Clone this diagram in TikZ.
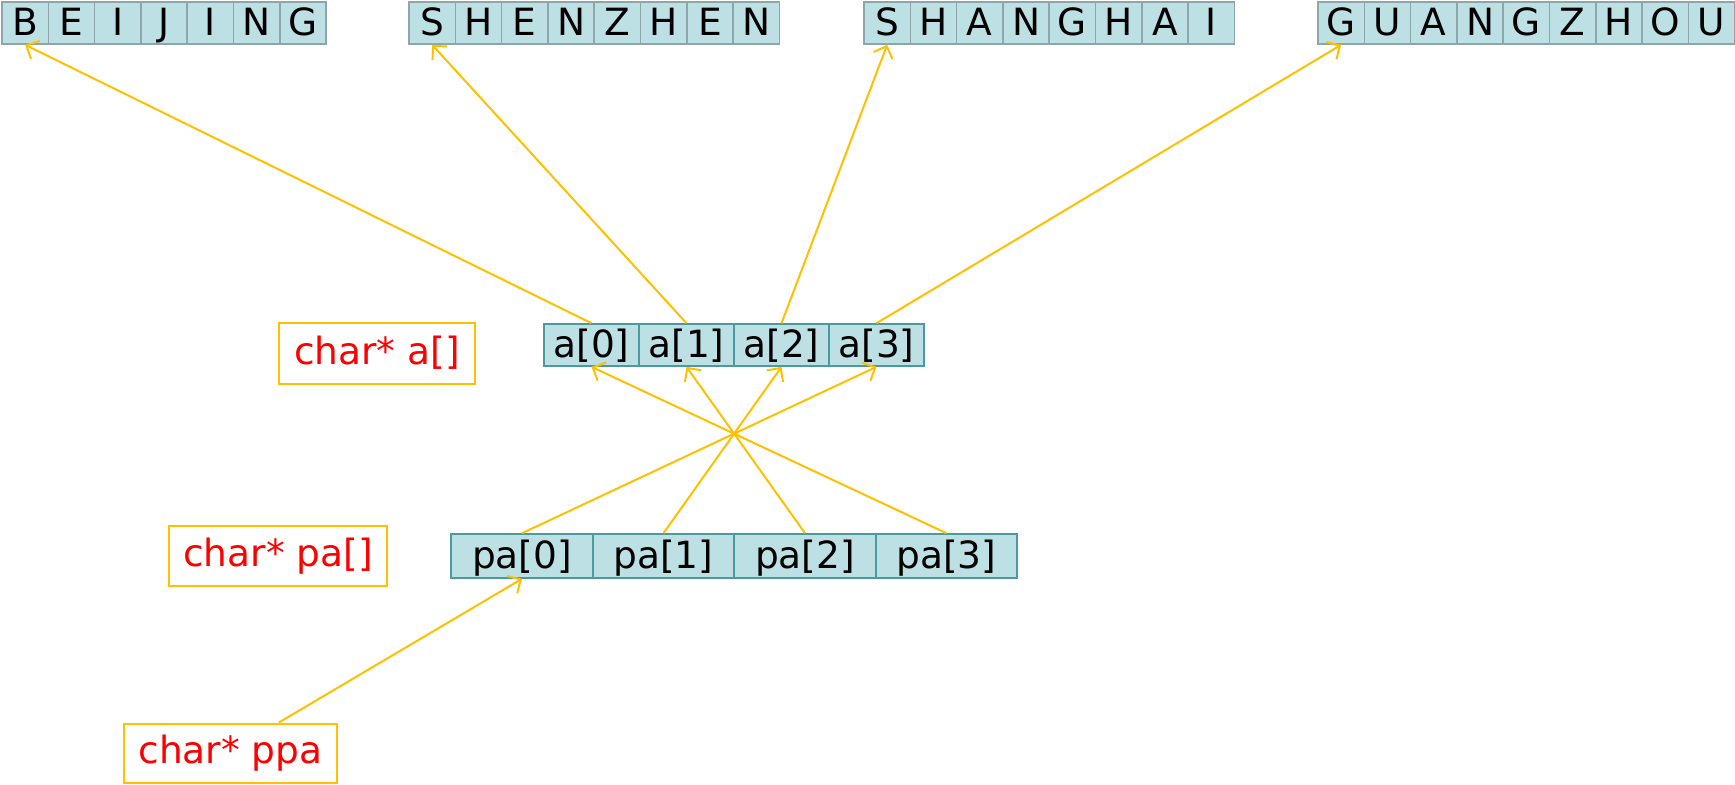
\documentclass[tikz,border=0pt]{standalone}
\usepackage{fontspec}
\setmainfont{DejaVu Sans}
\usetikzlibrary{arrows.meta, calc}
\definecolor{cCell}{HTML}{BCE0E4}
\definecolor{cGrey}{HTML}{8CA6A9}
\definecolor{cTeal}{HTML}{4A9AA0}
\definecolor{cLink}{HTML}{FFC000}
\definecolor{cRed}{HTML}{FF0000}

\begin{document}
\begin{tikzpicture}[
    x=0.5pt, y=-0.5pt, font=\fontsize{18.75pt}{22pt}\selectfont,
    cell/.style={draw=cGrey, line width=0.8pt, fill=cCell, inner sep=0pt,
                 minimum width=23.15pt, minimum height=21pt,
                 text height=15pt, text depth=3pt},
    slot/.style={cell, draw=cTeal},
    tag/.style={draw=cLink, line width=1pt, text=cRed, inner sep=0pt},
    ptr/.style={-{Straight Barb[length=5pt, width=10pt]}, line width=1pt, cLink},
]
\useasboundingbox (0,0) rectangle (1735,784);

% ===========================================================================
% Cadenas en memoria
% ===========================================================================
\foreach \w/\x/\s in {bj/2/{B,E,I,J,I,N,G}, sz/409/{S,H,E,N,Z,H,E,N},
                      sh/864/{S,H,A,N,G,H,A,I}, gz/1318/{G,U,A,N,G,Z,H,O,U}} {
    \foreach \c [count=\i from 0] in \s {
        \node[cell] (\w\i) at (\x+23.15+46.3*\i, 23) {\c};
    }
}

% ===========================================================================
% Arreglos de punteros
% ===========================================================================
\node[tag, minimum width=98pt, minimum height=30.5pt] (tagA) at (377,353) {char* a[]};
\foreach \i in {0,...,3} {
    \node[slot, minimum width=47.5pt] (a\i) at (591.5+95*\i, 345) {a[\i]};
}

\node[tag, minimum width=109pt, minimum height=30pt] (tagPA) at (278,556) {char* pa[]};
\foreach \i in {0,...,3} {
    \node[slot, minimum width=70.75pt, minimum height=22pt] (pa\i) at (522+141.5*\i, 556) {pa[\i]};
}

\node[tag, minimum width=106.5pt, minimum height=29.5pt] (tagPPA) at (230.5,753) {char* ppa};

% ----- punteros -----
\foreach \i/\w in {0/bj, 1/sz, 2/sh, 3/gz} {
    \draw[ptr] (a\i.north) -- (\w0.south);
}
\foreach \i/\j in {0/3, 1/2, 2/1, 3/0} {
    \draw[ptr] (pa\i.north) -- (a\j.south);
}
\draw[ptr] ($(tagPPA.north)!0.45!(tagPPA.north east)$) -- (pa0.south);

\end{tikzpicture}
\end{document}
